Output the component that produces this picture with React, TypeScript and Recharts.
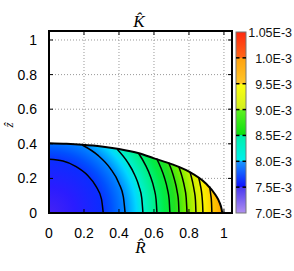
import React from 'react';
import { ComposedChart, Area, Line, XAxis, YAxis, CartesianGrid, Customized, ReferenceArea, ReferenceLine } from 'recharts';

// ---- data ----
const axisTicks = [0, 0.2, 0.4, 0.6, 0.8, 1];

// outer boundary of the body (R, z)
const boundary = [
  { R: 0, z: 0.403 },
  { R: 0.1, z: 0.4 },
  { R: 0.19, z: 0.395 },
  { R: 0.3, z: 0.385 },
  { R: 0.4, z: 0.37 },
  { R: 0.514, z: 0.345 },
  { R: 0.6, z: 0.316 },
  { R: 0.705, z: 0.281 },
  { R: 0.8, z: 0.239 },
  { R: 0.895, z: 0.172 },
  { R: 0.952, z: 0.104 },
  { R: 0.975, z: 0.06 },
  { R: 0.987, z: 0.02 },
  { R: 0.99, z: 0 },
];

// contour lines (R, z)
const contour1 = [
  { R: 0, z: 0.31 }, { R: 0.08, z: 0.3 }, { R: 0.155, z: 0.268 }, { R: 0.22, z: 0.218 },
  { R: 0.268, z: 0.155 }, { R: 0.3, z: 0.08 }, { R: 0.31, z: 0 },
];
const contour2 = [
  { R: 0.19, z: 0.393 }, { R: 0.28, z: 0.333 }, { R: 0.35, z: 0.258 }, { R: 0.4, z: 0.171 },
  { R: 0.425, z: 0.093 }, { R: 0.435, z: 0 },
];
const contour3 = [
  { R: 0.39, z: 0.369 }, { R: 0.45, z: 0.293 }, { R: 0.49, z: 0.22 }, { R: 0.515, z: 0.152 },
  { R: 0.53, z: 0.087 }, { R: 0.537, z: 0 },
];
const contour4 = [
  { R: 0.513, z: 0.344 }, { R: 0.55, z: 0.28 }, { R: 0.58, z: 0.211 }, { R: 0.6, z: 0.144 },
  { R: 0.612, z: 0.078 }, { R: 0.617, z: 0 },
];
const contour5 = [
  { R: 0.615, z: 0.315 }, { R: 0.64, z: 0.26 }, { R: 0.66, z: 0.204 }, { R: 0.677, z: 0.138 },
  { R: 0.687, z: 0.075 }, { R: 0.691, z: 0 },
];
const contour6 = [
  { R: 0.683, z: 0.292 }, { R: 0.7, z: 0.25 }, { R: 0.718, z: 0.19 }, { R: 0.732, z: 0.127 },
  { R: 0.74, z: 0.068 }, { R: 0.743, z: 0 },
];
const contour7 = [
  { R: 0.742, z: 0.268 }, { R: 0.76, z: 0.212 }, { R: 0.775, z: 0.148 }, { R: 0.784, z: 0.089 },
  { R: 0.789, z: 0 },
];
const contour8 = [
  { R: 0.806, z: 0.237 }, { R: 0.82, z: 0.182 }, { R: 0.83, z: 0.13 }, { R: 0.837, z: 0.075 },
  { R: 0.84, z: 0 },
];
const contour9 = [
  { R: 0.855, z: 0.207 }, { R: 0.866, z: 0.157 }, { R: 0.874, z: 0.103 }, { R: 0.878, z: 0.05 },
  { R: 0.88, z: 0 },
];
const contour10 = [
  { R: 0.917, z: 0.155 }, { R: 0.924, z: 0.11 }, { R: 0.929, z: 0.06 }, { R: 0.931, z: 0 },
];
const contours = [contour1, contour2, contour3, contour4, contour5, contour6, contour7, contour8, contour9, contour10];

// colour bar
const cbValues = [7.0, 7.5, 8.0, 8.5, 9.0, 9.5, 10.0, 10.5];
const cbLabels = ['7.0E-3', '7.5E-3', '8.0E-3', '8.5E-2', '9.0E-3', '9.5E-3', '1.0E-3', '1.05E-3'];

// ---- styles ----
const fieldStops: [number, string][] = [
  [0, '#4422f4'], [0.15, '#2a1cff'], [0.3, '#0c2cff'], [0.36, '#0050ff'], [0.44, '#0088ff'],
  [0.505, '#00d8ff'], [0.545, '#00f0d0'], [0.606, '#00f090'], [0.667, '#00ec48'], [0.727, '#20e020'],
  [0.788, '#70f000'], [0.848, '#c8f000'], [0.9, '#f8f000'], [0.94, '#ffd000'], [1, '#ffa000'],
];
const cbStops: [number, string][] = [
  [0, '#ff2810'], [1 / 7, '#ff6818'], [1 / 7, '#ffa010'], [2 / 7, '#ffc828'],
  [2 / 7, '#ffff10'], [3 / 7, '#d0f020'], [3 / 7, '#60f020'], [4 / 7, '#08e010'],
  [4 / 7, '#00f0a8'], [5 / 7, '#00f0f0'], [5 / 7, '#1898ff'], [6 / 7, '#1010ff'],
  [6 / 7, '#4838f0'], [1, '#b090f0'],
];

const W = 294;
const H = 271;
const PLOT_TOP = 31;
const PLOT_BOTTOM = 213;
const PLOT_LEFT = 49;
const PLOT_RIGHT = 232;
const CB_X = 236;
const CB_W = 10;
const CB_TOP = 32;
const sansFont = '"Liberation Sans", Arial, sans-serif';
const serifFont = '"Liberation Serif", "Times New Roman", serif';

const yDomain = [0, 1.052];
const xDomain = [0, 1.046];
const TICK_X = 0.023; // inward tick length in x units
const TICK_Y = 0.023; // inward tick length in y units

const cbY = (v: number) =>
  PLOT_BOTTOM - ((v - cbValues[0]) / (cbValues[cbValues.length - 1] - cbValues[0])) * (PLOT_BOTTOM - CB_TOP);

const Decorations = () => (
  <g>
    {/* title K hat */}
    <text x={139} y={27} textAnchor="middle" fontFamily={serifFont} fontStyle="italic" fontSize={17} fill="#000">{'K\u0302'}</text>
    {/* x label R hat */}
    <text x={140.5} y={253} textAnchor="middle" fontFamily={serifFont} fontStyle="italic" fontSize={17} fill="#000">{'R\u0302'}</text>
    {/* y label z hat */}
    <g transform="translate(13,125) rotate(-90)">
      <text x={0} y={0} textAnchor="middle" fontFamily={serifFont} fontStyle="italic" fontSize={13} fill="#000">{'z\u0302'}</text>
    </g>
    {/* colour bar */}
    <rect x={CB_X} y={CB_TOP} width={CB_W} height={PLOT_BOTTOM - CB_TOP} fill="url(#cbGrad)" stroke="#777" strokeWidth={1} />
    {cbValues.slice(1, -1).map((v) => (
      <g key={v}>
        <line x1={CB_X} x2={CB_X + 3.5} y1={cbY(v)} y2={cbY(v)} stroke="#000" strokeWidth={1.5} />
        <line x1={CB_X + CB_W - 3.5} x2={CB_X + CB_W} y1={cbY(v)} y2={cbY(v)} stroke="#000" strokeWidth={1.5} />
      </g>
    ))}
    {cbValues.map((v, i) => (
      <text key={v} x={292} y={cbY(v) + 1} textAnchor="end" dominantBaseline="central" fontFamily={sansFont} fontSize={12.5} fill="#111">
        {cbLabels[i]}
      </text>
    ))}
  </g>
);

export default function App() {
  return (
    <div style={{ position: 'absolute', left: 0, top: 0, width: W, height: H, background: '#fff' }}>
      <ComposedChart
        width={W}
        height={H}
        margin={{ top: PLOT_TOP, right: W - PLOT_RIGHT, left: 0, bottom: 0 }}
      >
        <defs>
          <radialGradient id="fieldGrad" cx="0" cy="1" r="1" gradientTransform="translate(0 1) scale(1 2.47) translate(0 -1)">
            {fieldStops.map(([o, c], i) => (
              <stop key={i} offset={o} stopColor={c} />
            ))}
          </radialGradient>
          <linearGradient id="cbGrad" x1="0" y1="0" x2="0" y2="1">
            {cbStops.map(([o, c], i) => (
              <stop key={i} offset={o} stopColor={c} />
            ))}
          </linearGradient>
        </defs>
        <CartesianGrid stroke="#999" strokeDasharray="1 2" strokeWidth={1} />
        <Area
          data={boundary}
          dataKey="z"
          type="monotone"
          fill="url(#fieldGrad)"
          fillOpacity={1}
          stroke="#000"
          strokeWidth={2}
          dot={false}
          activeDot={false}
          isAnimationActive={false}
        />
        {contours.map((c, i) => (
          <Line
            key={i}
            data={c}
            dataKey="z"
            type="monotone"
            stroke="#000"
            strokeWidth={1.5}
            dot={false}
            activeDot={false}
            isAnimationActive={false}
          />
        ))}
        {/* inward mirror ticks on top and right edges */}
        {axisTicks.slice(1).map((t) => (
          <ReferenceLine
            key={'tt' + t}
            segment={[{ x: t, y: yDomain[1] }, { x: t, y: yDomain[1] - TICK_Y }]}
            stroke="#000"
            strokeWidth={1}
            ifOverflow="visible"
          />
        ))}
        {axisTicks.slice(1).map((t) => (
          <ReferenceLine
            key={'rt' + t}
            segment={[{ x: xDomain[1], y: t }, { x: xDomain[1] - TICK_X, y: t }]}
            stroke="#000"
            strokeWidth={1}
            ifOverflow="visible"
          />
        ))}
        {/* plot frame */}
        <ReferenceArea
          x1={xDomain[0]}
          x2={xDomain[1]}
          y1={yDomain[0]}
          y2={yDomain[1]}
          fill="none"
          fillOpacity={0}
          stroke="#000"
          strokeWidth={2}
          ifOverflow="visible"
        />
        <XAxis
          dataKey="R"
          type="number"
          domain={xDomain}
          ticks={axisTicks}
          interval={0}
          allowDataOverflow
          height={H - PLOT_BOTTOM}
          tickSize={-4}
          tickMargin={19}
          tickLine={{ stroke: '#000', strokeWidth: 1 }}
          axisLine={{ stroke: '#000', strokeWidth: 2 }}
          tick={{ fill: '#000', fontSize: 14, fontFamily: sansFont }}
        />
        <YAxis
          type="number"
          domain={yDomain}
          ticks={axisTicks}
          interval={0}
          allowDataOverflow
          width={PLOT_LEFT}
          tickSize={-4}
          tickMargin={16}
          tickLine={{ stroke: '#000', strokeWidth: 1 }}
          axisLine={{ stroke: '#000', strokeWidth: 2 }}
          tick={{ fill: '#000', fontSize: 14, fontFamily: sansFont }}
        />
        <Customized component={<Decorations />} />
      </ComposedChart>
    </div>
  );
}
